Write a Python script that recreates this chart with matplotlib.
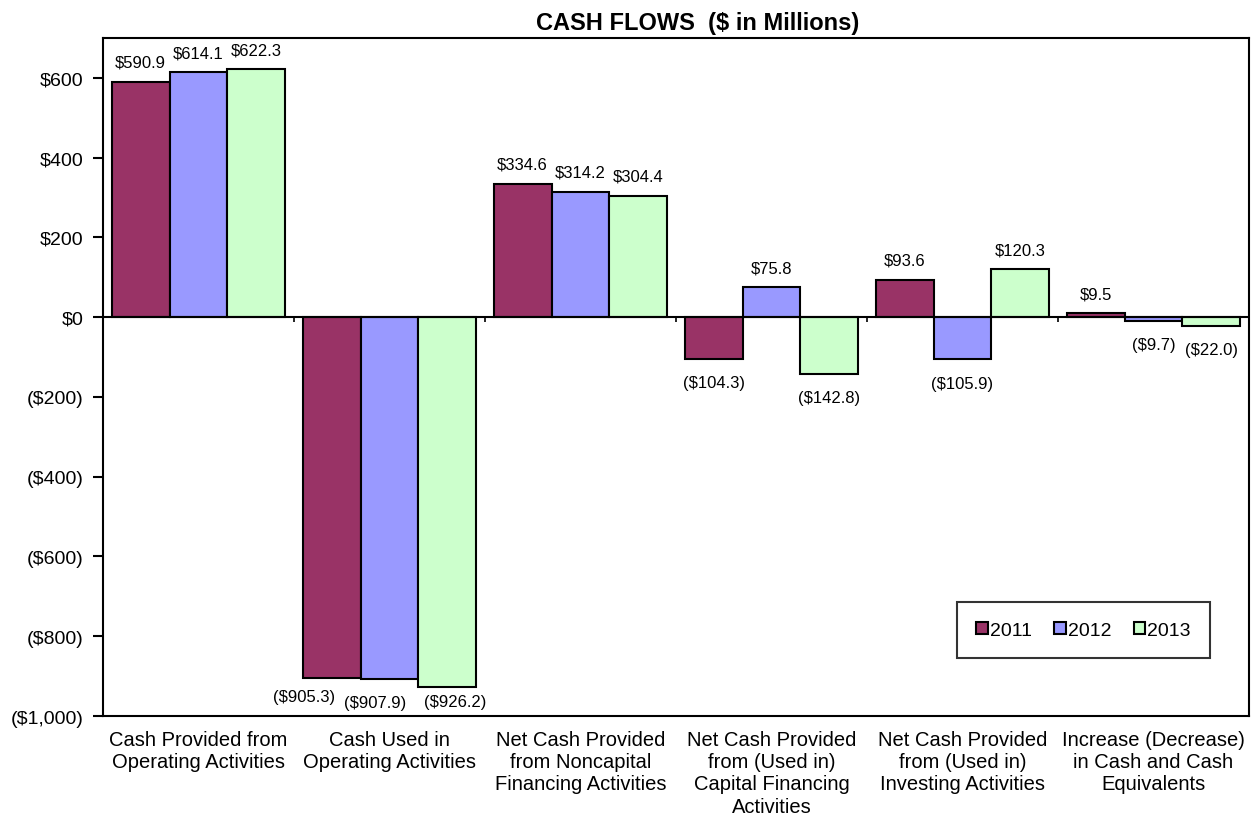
import numpy as np
import matplotlib
matplotlib.use("Agg")
from matplotlib import pyplot as plt

plt.rcParams['font.family'] = ['Liberation Sans', 'DejaVu Sans']

categories = [
    "Cash Provided from\nOperating Activities",
    "Cash Used in\nOperating Activities",
    "Net Cash Provided\nfrom Noncapital\nFinancing Activities",
    "Net Cash Provided\nfrom (Used in)\nCapital Financing\nActivities",
    "Net Cash Provided\nfrom (Used in)\nInvesting Activities",
    "Increase (Decrease)\nin Cash and Cash\nEquivalents",
]
years = ["2011", "2012", "2013"]
values_2011 = [590.9, -905.3, 334.6, -104.3, 93.6, 9.5]
values_2012 = [614.1, -907.9, 314.2, 75.8, -105.9, -9.7]
values_2013 = [622.3, -926.2, 304.4, -142.8, 120.3, -22.0]
colors = ["#993366", "#9999FF", "#CCFFCC"]
y_ticks = [-1000, -800, -600, -400, -200, 0, 200, 400, 600]

# labels that were pushed sideways in the original to avoid overlapping
label_nudge = {(0, 1): (-20, -13), (1, 1): (-10, -17), (2, 1): (6, -11)}


def money(v, decimals=1):
    s = f"${abs(v):,.{decimals}f}"
    return f"({s})" if v < 0 else s


fig = plt.figure(figsize=(12.51, 8.2), dpi=100)
ax = fig.add_axes([0.0823, 0.1256, 0.9161, 0.8268])

x = np.arange(len(categories))
width = 0.303
series = [values_2011, values_2012, values_2013]
for i, (vals, col, yr) in enumerate(zip(series, colors, years)):
    pos = x + (i - 1) * width
    ax.bar(pos, vals, width, color=col, edgecolor="black", linewidth=1.5,
           label=yr, zorder=2)
    for j, (px, v) in enumerate(zip(pos, vals)):
        off = (0, 14) if v >= 0 else (0, -17)
        off = label_nudge.get((i, j), off)
        ax.annotate(money(v), (px, v), xytext=off, textcoords="offset points",
                    ha="center", va="center", fontsize=12)

ax.set_xlim(-0.5, len(categories) - 0.5)
ax.set_ylim(-1000, 700)
ax.axhline(0, color="black", linewidth=1.5, zorder=3)
bounds = np.arange(0.5, len(categories) - 0.5)
ax.vlines(bounds, -13, 0, color="black", linewidth=1.2, zorder=3)

ax.set_yticks(y_ticks)
ax.set_yticklabels([money(v, 0) for v in y_ticks])
ax.tick_params(axis="y", direction="out", length=7, width=1.5, labelsize=14, pad=7)
ax.set_xticks(x)
ax.set_xticklabels(categories, fontsize=14.5, linespacing=1.22)
ax.tick_params(axis="x", length=0, pad=10)
for sp in ax.spines.values():
    sp.set_linewidth(1.5)

leg = ax.legend(loc="lower right", bbox_to_anchor=(0.9746, 0.071), ncol=3,
                fontsize=14, frameon=True, fancybox=False, edgecolor="black",
                handlelength=0.6, handleheight=0.6, handletextpad=0.1,
                columnspacing=1.15, borderpad=1.0)
leg.get_frame().set_linewidth(1.5)
for h in leg.legend_handles:
    h.set_linewidth(1.5)

fig.text(0.558, 0.971, "CASH FLOWS  ($ in Millions)", ha="center", va="center",
         fontsize=17, fontweight="bold")

plt.savefig("out.png", dpi=100)
